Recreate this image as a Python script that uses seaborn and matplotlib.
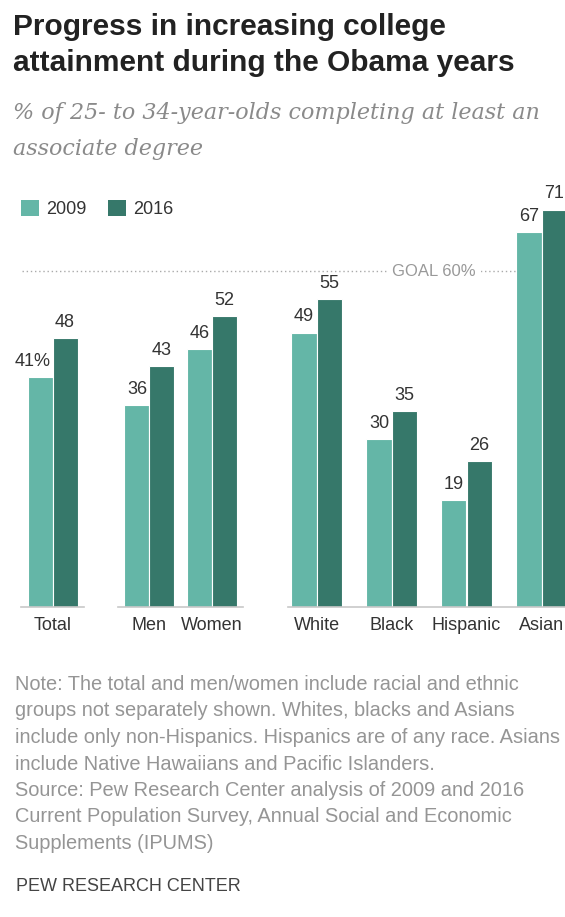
import numpy as np
import pandas as pd
import matplotlib
matplotlib.use("Agg")
import matplotlib.pyplot as plt
import seaborn as sns
from matplotlib.patches import Patch

# ---------------- data ----------------
groups_total = ["Total"]
groups_gender = ["Men", "Women"]
groups_race = ["White", "Black", "Hispanic", "Asian"]
categories = groups_total + groups_gender + groups_race
years = ["2009", "2016"]
values_2009 = [41, 36, 46, 49, 30, 19, 67]
values_2016 = [48, 43, 52, 55, 35, 26, 71]
goal_value = 60
goal_label = "GOAL 60%"

title_lines = ["Progress in increasing college",
               "attainment during the Obama years"]
subtitle_lines = ["% of 25- to 34-year-olds completing at least an",
                  "associate degree"]
note_lines = ["Note: The total and men/women include racial and ethnic",
              "groups not separately shown. Whites, blacks and Asians",
              "include only non-Hispanics. Hispanics are of any race. Asians",
              "include Native Hawaiians and Pacific Islanders.",
              "Source: Pew Research Center analysis of 2009 and 2016",
              "Current Population Survey, Annual Social and Economic",
              "Supplements (IPUMS)"]
credit = "PEW RESEARCH CENTER"

df = pd.DataFrame({
    "group": categories * 2,
    "year": [years[0]] * len(categories) + [years[1]] * len(categories),
    "value": values_2009 + values_2016,
})

# ---------------- style ----------------
sns.set_theme(style="white")
plt.rcParams["font.family"] = ["Liberation Sans", "DejaVu Sans"]
colors = {"2009": "#64b6a7", "2016": "#36786a"}
txt_dark = "#333333"

W, H = 565, 917
fig = plt.figure(figsize=(W / 100, H / 100), dpi=100, facecolor="white")


def fx(px):
    return px / W


def fy(py):
    return 1 - py / H


base_y = 606.5
ppu = 5.59
ymax = 75
ax_h = ymax * ppu

# (categories, first center px, spacing px, left pad, right pad, bar group width)
panels = [
    (groups_total, 52.5, 62.5, 0.5, 0.5, 0.8),
    (groups_gender, 149.5, 62.5, 0.5, 0.5, 0.8),
    (groups_race, 316.5, 75.0, 0.38, 0.5, 0.667),
]

first_label = True
for cats, c0, sp, lp, rp, bw in panels:
    left = c0 - lp * sp
    width = sp * (len(cats) - 1 + lp + rp)
    ax = fig.add_axes([fx(left), fy(base_y), width / W, ax_h / H])
    ax.set_facecolor("none")
    sub = df[df["group"].isin(cats)]
    sns.barplot(data=sub, x="group", y="value", hue="year", order=cats,
                hue_order=years, palette=colors, width=bw, saturation=1,
                edgecolor="white", linewidth=0.8, errorbar=None,
                legend=False, ax=ax, zorder=2)
    ax.set_xlim(-lp, len(cats) - 1 + rp)
    ax.set_ylim(0, ymax)
    ax.set_yticks([])
    ax.set_xlabel("")
    ax.set_ylabel("")
    for s in ["left", "right", "top"]:
        ax.spines[s].set_visible(False)
    ax.spines["bottom"].set_color("#c8c8c8")
    ax.spines["bottom"].set_linewidth(1.2)
    ax.tick_params(axis="x", length=0, pad=7.5, labelsize=13,
                   labelcolor=txt_dark)

    # value labels
    for hi, cont in enumerate(ax.containers):
        for patch in cont:
            h = patch.get_height()
            xc = patch.get_x() + patch.get_width() / 2
            lab = f"{int(round(h))}"
            dx = 0
            if first_label and hi == 0:
                lab += "%"
                dx = -5
                first_label = False
            ax.annotate(lab, (xc, h), xytext=(dx, 8), textcoords="offset points",
                        ha="center", va="baseline", fontsize=13,
                        color=txt_dark, zorder=5)

    if cats is groups_race:
        ax.axhline(goal_value, xmin=(22 - left) / width, xmax=1.0,
                   clip_on=False, color="#aaaaaa", lw=1.0,
                   linestyle=(0, (1, 2)), zorder=0.5)
        ax.text((434 - c0) / sp, goal_value, goal_label, ha="center",
                va="center", fontsize=12, color="#999999", zorder=4,
                bbox=dict(boxstyle="square,pad=0.3", fc="white", ec="none"))

# ---------------- legend ----------------
handles = [Patch(facecolor=colors[y], edgecolor="none") for y in years]
leg = fig.legend(handles, years, loc="center left",
                 bbox_to_anchor=(fx(21), fy(209)), ncol=2, frameon=False,
                 fontsize=13, handlelength=1.0, handleheight=1.0,
                 handletextpad=0.4, columnspacing=1.2, borderpad=0,
                 borderaxespad=0)
for t in leg.get_texts():
    t.set_color(txt_dark)

# ---------------- texts ----------------
renderer = fig.canvas.get_renderer()


def fit(txt, target_px):
    w = txt.get_window_extent(renderer).width
    txt.set_fontsize(txt.get_fontsize() * target_px / w)
    return txt.get_fontsize()


t1 = fig.text(fx(12.6), fy(35), title_lines[0], fontsize=21,
              fontweight="bold", color="#222222", va="baseline")
t2 = fig.text(fx(12.6), fy(71), title_lines[1], fontsize=21,
              fontweight="bold", color="#222222", va="baseline")
fs = fit(t2, 502)
t1.set_fontsize(fs)

s1 = fig.text(fx(12.6), fy(119), subtitle_lines[0], fontsize=16,
              family=["DejaVu Serif"], style="italic", color="#8a8a8a",
              va="baseline")
s2 = fig.text(fx(12.6), fy(155), subtitle_lines[1], fontsize=16,
              family=["DejaVu Serif"], style="italic", color="#8a8a8a",
              va="baseline")
fs = fit(s1, 527)
s2.set_fontsize(fs)

note_texts = []
for i, line in enumerate(note_lines):
    note_texts.append(fig.text(fx(15), fy(690 + 26.5 * i), line, fontsize=13,
                               color="#959595", va="baseline"))
# fit so that the longest line stays inside the figure
fs = fit(note_texts[2], 545)
for t in note_texts:
    t.set_fontsize(fs)

fig.text(fx(15.5), fy(891), credit, fontsize=13, color="#444444",
         va="baseline")

fig.savefig("out.png", dpi=100, facecolor="white")
